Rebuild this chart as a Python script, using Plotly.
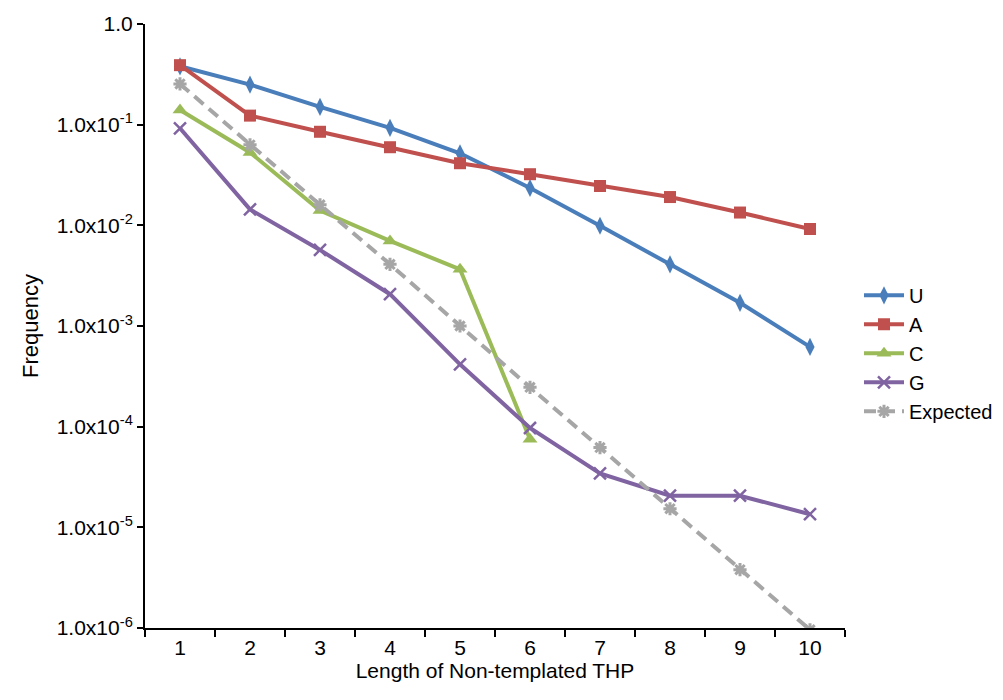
import plotly.graph_objects as go

lengths = [1, 2, 3, 4, 5, 6, 7, 8, 9, 10]
freq_U = [0.38, 0.25, 0.15, 0.093, 0.052, 0.0235, 0.0099, 0.0041, 0.0017, 0.00062]
freq_A = [0.39, 0.123, 0.085, 0.0597, 0.0414, 0.0322, 0.0246, 0.0191, 0.0134, 0.0092]
freq_C = [0.14, 0.053, 0.014, 0.0070, 0.00366, 0.000075]
freq_G = [0.092, 0.0144, 0.0057, 0.00207, 0.000416, 0.000097, 0.0000343, 0.0000206, 0.0000206, 0.0000135]
freq_exp = [0.254, 0.063, 0.016, 0.0041, 0.001, 0.000246, 0.000062, 0.0000153, 0.0000038, 0.00000096]

ytick_vals = [1e-6, 1e-5, 1e-4, 1e-3, 1e-2, 1e-1, 1]
ytick_text = ["1.0x10<sup>-6</sup>", "1.0x10<sup>-5</sup>", "1.0x10<sup>-4</sup>",
              "1.0x10<sup>-3</sup>", "1.0x10<sup>-2</sup>", "1.0x10<sup>-1</sup>", "1.0"]

FONT = "Liberation Sans, Arial, sans-serif"

fig = go.Figure()
fig.add_trace(go.Scatter(x=lengths, y=freq_U, name="U", mode="lines+markers",
                         line=dict(color="#4A7EBB", width=4),
                         marker=dict(symbol="diamond-tall", size=13, color="#4A7EBB")))
fig.add_trace(go.Scatter(x=lengths, y=freq_A, name="A", mode="lines+markers",
                         line=dict(color="#C0504D", width=4),
                         marker=dict(symbol="square", size=12, color="#C0504D")))
fig.add_trace(go.Scatter(x=lengths[:len(freq_C)], y=freq_C, name="C", mode="lines+markers",
                         line=dict(color="#9BBB59", width=4),
                         marker=dict(symbol="triangle-up", size=13, color="#9BBB59")))
fig.add_trace(go.Scatter(x=lengths, y=freq_G, name="G", mode="lines+markers",
                         line=dict(color="#8064A2", width=4),
                         marker=dict(symbol="x-thin", size=12, color="#8064A2",
                                     line=dict(color="#8064A2", width=2.5))))
fig.add_trace(go.Scatter(x=lengths, y=freq_exp, name="Expected", mode="lines+markers",
                         line=dict(color="#A6A6A6", width=4, dash="12px,7px"),
                         marker=dict(symbol="asterisk", size=11, color="#A6A6A6",
                                     line=dict(color="#A6A6A6", width=3))))

fig.update_layout(
    width=1003, height=700,
    margin=dict(l=137, r=166, t=16, b=80, autoexpand=False),
    paper_bgcolor="white", plot_bgcolor="white",
    font=dict(family=FONT, size=21, color="black"),
    showlegend=True,
    legend=dict(x=1.02, y=0.583, xanchor="left", yanchor="top",
                font=dict(family=FONT, size=20, color="black"),
                itemwidth=40, tracegroupgap=0, bgcolor="rgba(0,0,0,0)"),
)
fig.update_xaxes(
    automargin=False,
    range=[0.5, 10.5], tickvals=lengths, ticktext=[str(v) for v in lengths],
    ticks="", showgrid=False, zeroline=False,
    showline=True, linecolor="black", linewidth=2,
    minor=dict(ticks="outside", tick0=0.5, dtick=1, ticklen=7, tickwidth=2, tickcolor="black", showgrid=False),
    tickfont=dict(family=FONT, size=21),
    title=dict(text="Length of Non-templated THP", font=dict(family=FONT, size=21), standoff=2),
)
fig.update_yaxes(
    automargin=False,
    type="log", range=[-6, 0], tickvals=ytick_vals, ticktext=ytick_text,
    ticks="outside", ticklen=6, tickwidth=2, tickcolor="black",
    showgrid=False, zeroline=False,
    showline=True, linecolor="black", linewidth=2,
    tickfont=dict(family=FONT, size=21),
    title=dict(text="Frequency", font=dict(family=FONT, size=22), standoff=12),
)

fig.write_html("out.html")
